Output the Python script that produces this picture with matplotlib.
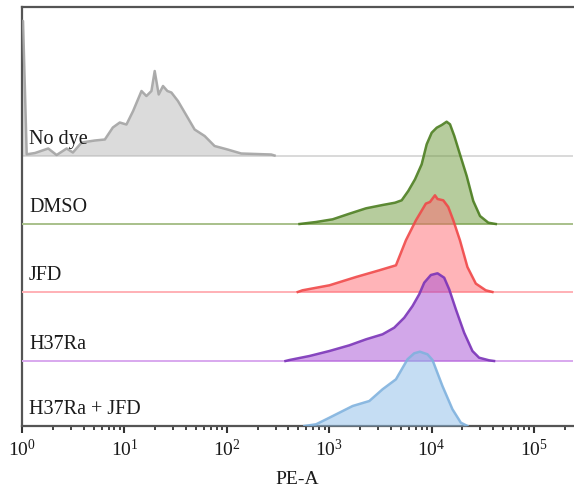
import numpy as np
import matplotlib
matplotlib.use("Agg")
import matplotlib.pyplot as plt
import matplotlib.transforms as mtrans
from matplotlib.ticker import LogLocator, LogFormatterSciNotation, NullFormatter

plt.rcParams['font.family'] = ['Liberation Serif', 'DejaVu Serif']
plt.rcParams['mathtext.fontset'] = 'custom'
plt.rcParams['mathtext.rm'] = 'Liberation Serif'
plt.rcParams['mathtext.it'] = 'Liberation Serif:italic'

# ---- data (x as log10 of PE-A, y as relative counts) ----
labels = ["No dye", "DMSO", "JFD", "H37Ra", "H37Ra + JFD"]
offsets = [270.5, 202, 134, 65, 0]

nodye_log = [0.0, 0.01, 0.046, 0.127, 0.256, 0.338, 0.436, 0.497, 0.582, 0.711, 0.809, 0.887,
             0.955, 1.020, 1.085, 1.167, 1.215, 1.264, 1.296, 1.335, 1.377, 1.420, 1.459,
             1.523, 1.589, 1.686, 1.784, 1.881, 2.008, 2.141, 2.434, 2.466]
nodye_cnt = [134.5, 134.5, 1.2, 2.5, 7, 0.5, 7, 3, 13, 15, 16, 28,
             33, 31, 44.5, 64.5, 59.5, 64.5, 84.5, 61, 69.5, 64.5, 63,
             54.5, 43, 26, 19.5, 9.5, 6, 2, 1, 0]

dmso_log = [2.710, 2.872, 3.034, 3.197, 3.360, 3.521, 3.643, 3.708, 3.772, 3.838, 3.903,
            3.952, 4.001, 4.050, 4.099, 4.147, 4.180, 4.222, 4.277, 4.343, 4.407, 4.473,
            4.554, 4.627]
dmso_cnt = [0, 2, 4.7, 10.3, 15.7, 19, 21.3, 23.7, 33, 44.7, 59.7,
            79.7, 91.3, 96.3, 99, 102.3, 99.7, 88, 69.7, 48, 23, 8,
            1.3, 0]

jfd_log = [2.693, 2.739, 3.002, 3.262, 3.489, 3.652, 3.749, 3.847, 3.944, 3.984, 4.033,
           4.058, 4.114, 4.163, 4.212, 4.277, 4.350, 4.432, 4.529, 4.594]
jfd_cnt = [0, 1.7, 6.7, 15, 21.7, 26.7, 51.7, 71.7, 88.4, 90, 96.7,
           93, 91.7, 85, 71.7, 51.7, 25, 8.4, 1.7, 0]

h37_log = [2.573, 2.612, 2.807, 3.002, 3.197, 3.360, 3.521, 3.635, 3.733, 3.814, 3.879,
           3.928, 3.993, 4.058, 4.123, 4.172, 4.237, 4.318, 4.399, 4.464, 4.561, 4.610]
h37_cnt = [0, 1, 5, 10, 15.7, 21.7, 26.7, 33.3, 43.3, 55, 66.7,
           78.3, 86, 87.7, 83.3, 71.7, 51.7, 28.3, 10, 3.3, 0.7, 0]

h37jfd_log = [2.758, 2.872, 3.002, 3.229, 3.392, 3.521, 3.652, 3.765, 3.830, 3.886, 3.960,
              4.009, 4.106, 4.204, 4.286, 4.350]
h37jfd_cnt = [0, 1.7, 8.3, 20, 25, 36.7, 46.7, 66.7, 72.7, 74.3, 71.7,
              66, 40, 16.7, 3.3, 0]

xticks = [1e0, 1e1, 1e2, 1e3, 1e4, 1e5]

series = [(nodye_log, nodye_cnt), (dmso_log, dmso_cnt), (jfd_log, jfd_cnt),
          (h37_log, h37_cnt), (h37jfd_log, h37jfd_cnt)]
fill_colors = ["#b8b8b8", "#6e9a3c", "#ff6a72", "#a650d4", "#8dbde8"]
line_colors = ["#a3a3a3", "#4b7d1f", "#f04848", "#7a33b8", "#80b2de"]
base_colors = ["#d9d9d9", "#a8c08a", "#ffb0b6", "#d8a8ee", None]

fig = plt.figure(figsize=(5.74, 4.94), dpi=100)
ax = fig.add_axes([22/574, 68/494, 551/574, 419/494])
label_tr = mtrans.blended_transform_factory(ax.transAxes, ax.transData)

xmax = 10 ** 5.381
for i, ((lg, cnt), lab, off) in enumerate(zip(series, labels, offsets)):
    x = 10 ** np.array(lg)
    y = np.array(cnt) + off
    z = 2 + i * 2
    if base_colors[i] is not None:
        ax.plot([1, xmax], [off, off], color=base_colors[i], lw=1.4, zorder=z)
    ax.fill_between(x, off, y, color=fill_colors[i], alpha=0.5, lw=0, zorder=z + 0.5)
    ax.plot(x, y, color=line_colors[i], lw=1.8, alpha=0.9, zorder=z + 1,
            solid_joinstyle="round")
    ax.text(7/551, off + 12, lab, transform=label_tr,
            fontsize=14.5, color="#1a1a1a", va="baseline", ha="left", zorder=20)

ax.set_xscale("log")
ax.set_xlim(1, xmax)
ax.set_ylim(0, 419)
ax.set_yticks([])
ax.set_xticks(xticks)
ax.xaxis.set_major_formatter(LogFormatterSciNotation())
ax.xaxis.set_minor_locator(LogLocator(base=10, subs=np.arange(2, 10), numticks=20))
ax.xaxis.set_minor_formatter(NullFormatter())
ax.tick_params(axis="x", which="major", length=5, width=1.5, color="#333333",
               labelsize=14, pad=4, labelcolor="#1a1a1a")
ax.tick_params(axis="x", which="minor", length=3, width=1.3, color="#333333")

for s in ["left", "top", "bottom"]:
    ax.spines[s].set_color("#555555")
    ax.spines[s].set_linewidth(1.6)
ax.spines["right"].set_visible(False)

ax.set_xlabel("PE-A", fontsize=14, color="#1a1a1a", labelpad=8)

fig.savefig("out.png", dpi=100)
